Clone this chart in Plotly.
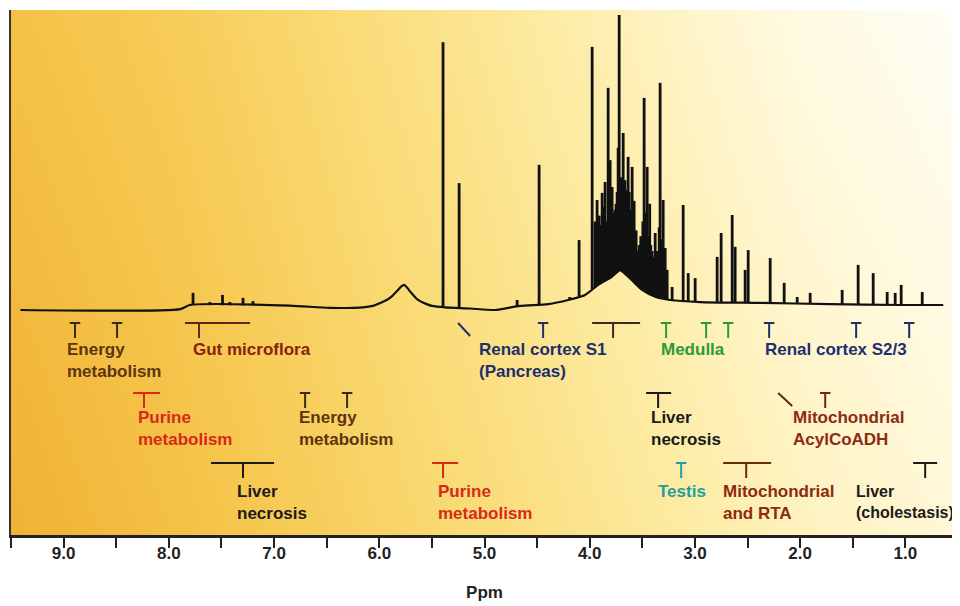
import numpy as np
import plotly.graph_objects as go

# ---------------- data ----------------
# baseline profile of the spectrum (ppm, intensity)
base_ppm = [9.41, 7.89, 7.80, 6.85, 6.47, 6.135, 6.05, 5.99, 5.93, 5.878, 5.83, 5.79,
            5.764, 5.74, 5.71, 5.688, 5.65, 5.612, 5.55, 5.498,
            5.374, 5.137, 4.90, 4.662, 4.395, 4.205, 4.044, 3.92, 3.80, 3.71, 3.597,
            3.502, 3.378, 3.236, 2.95, 2.38, 1.715, 1.05, 0.64]
base_int = [0.0, 0.3, 1.7, 1.5, 0.7, 1.0, 1.5, 2.4, 3.4, 4.7, 6.5, 8.0,
            8.5, 7.8, 6.4, 5.5, 4.0, 3.0, 2.0, 1.4,
            0.9, 0.5, 0.0, 1.4, 2.0, 3.4, 5.1, 8.5, 11.0, 13.5, 10.0,
            6.8, 4.5, 3.4, 2.7, 2.4, 2.0, 1.7, 1.7]

# resonance lines (ppm, peak intensity)
peak_ppm = [7.77, 7.61, 7.49, 7.42, 7.295, 7.20, 7.04,
            5.394, 5.241, 4.69, 4.481, 4.19, 4.101,
            3.977, 3.95, 3.93, 3.91, 3.90, 3.882, 3.87, 3.854, 3.84, 3.825, 3.815,
            3.806, 3.795, 3.787, 3.775, 3.76, 3.75, 3.74, 3.73, 3.72, 3.71,
            3.70, 3.69, 3.682, 3.665, 3.654, 3.645, 3.635, 3.625, 3.616, 3.605,
            3.597, 3.585, 3.578, 3.559, 3.545, 3.53, 3.515, 3.495, 3.483, 3.47,
            3.454, 3.44, 3.43, 3.42, 3.407, 3.39, 3.378, 3.36, 3.35, 3.34, 3.331,
            3.315, 3.302, 3.29, 3.283, 3.264, 3.217, 3.112, 3.064,
            2.998, 2.789, 2.751, 2.646, 2.618, 2.523, 2.494, 2.285, 2.152, 2.028,
            1.905, 1.601, 1.449, 1.306, 1.173, 1.097, 1.040, 0.840]
peak_int = [5.8, 2.7, 5.1, 2.7, 4.1, 3.0, 2.0,
            90.8, 43.0, 3.4, 49.2, 4.4, 23.7,
            89.2, 30.0, 37.3, 32.0, 28.8, 39.7, 35.0, 43.4, 30.0, 75.3, 45.0,
            50.8, 38.0, 41.7, 33.0, 34.0, 36.0, 40.0, 55.0, 100.0, 42.0,
            45.0, 38.0, 60.0, 44.0, 40.7, 36.0, 51.9, 40.0, 34.0, 30.0,
            48.5, 28.0, 37.0, 27.0, 20.0, 22.0, 25.0, 30.0, 71.9, 33.0,
            48.5, 25.0, 36.0, 22.0, 20.0, 18.0, 26.1, 20.0, 17.0, 28.0, 77.0,
            24.0, 37.3, 18.0, 21.0, 13.6, 7.8, 35.6, 12.5,
            10.8, 18.0, 26.1, 32.2, 21.4, 13.6, 20.3, 17.6, 9.2, 4.4,
            5.8, 6.8, 15.3, 12.5, 6.1, 5.8, 8.5, 6.1]

# axis
tick_vals = [9.5, 9.0, 8.5, 8.0, 7.5, 7.0, 6.5, 6.0, 5.5, 5.0, 4.5, 4.0,
             3.5, 3.0, 2.5, 2.0, 1.5, 1.0, 0.5]
tick_text = ["", "9.0", "", "8.0", "", "7.0", "", "6.0", "", "5.0", "", "4.0",
             "", "3.0", "", "2.0", "", "1.0", ""]

# region labels
label_text = ["Energy<br>metabolism", "Gut microflora", "Renal cortex S1<br>(Pancreas)",
              "Medulla", "Renal cortex S2/3",
              "Purine<br>metabolism", "Energy<br>metabolism", "Liver<br>necrosis",
              "Mitochondrial<br>AcylCoADH",
              "Liver<br>necrosis", "Purine<br>metabolism", "Testis",
              "Mitochondrial<br>and RTA", "Liver<br>(cholestasis)"]
label_ppm = [8.977, 7.779, 5.061, 3.331, 2.342,
             8.302, 6.772, 3.426, 2.076,
             7.361, 5.451, 3.359, 2.741, 1.478]
label_row = [0, 0, 0, 0, 0, 1, 1, 1, 1, 2, 2, 2, 2, 2]
label_size = [17, 17, 17, 17, 17, 17, 17, 17, 17, 17, 17, 17, 17, 16]
label_color = ["#5a3510", "#8a1e10", "#1d2f6e", "#2a9a3a", "#1d2f6e",
               "#d8281a", "#5a3510", "#1a1a1a", "#8e2a10",
               "#1a1a1a", "#d8281a", "#1f9f9f", "#8e2a10", "#1a1a1a"]

# single "T" markers
tee_ppm = [8.892, 8.492, 4.443, 3.274, 2.894, 2.684, 2.295, 1.468, 0.964,
           6.705, 6.306, 1.762, 3.131]
tee_row = [0, 0, 0, 0, 0, 0, 0, 0, 0, 1, 1, 1, 2]
tee_color = ["#3a2a10", "#3a2a10", "#1d2f6e", "#2a9a3a", "#2a9a3a", "#2a9a3a",
             "#1d2f6e", "#1d2f6e", "#1d2f6e", "#3a2a10", "#3a2a10", "#6a2a10", "#1f9f9f"]

# bracket markers (range and stem)
bar_from = [7.846, 3.977, 8.340, 3.464, 7.599, 5.498, 2.732, 0.926]
bar_to = [7.228, 3.521, 8.084, 3.226, 7.000, 5.251, 2.276, 0.698]
bar_stem = [7.713, 3.778, 8.236, 3.350, 7.295, 5.394, 2.513, 0.812]
bar_row = [0, 0, 1, 1, 2, 2, 2, 2]
bar_color = ["#5a2a10", "#3a2a20", "#d8281a", "#1a1a1a", "#1a1a1a", "#d8281a",
             "#6a2a10", "#1a1a1a"]

# slanted markers
diag_from = [5.251, 2.209]
diag_to = [5.137, 2.076]
diag_row = [0, 1]
diag_color = ["#1d2f6e", "#5a2a10"]

# background colour field
bg_ppm = [9.5, 8.0, 6.5, 5.0, 3.5, 2.0, 0.5]
bg_rows = [-76.3, 12.7, 101.7]
bg_z = [[1.00, 0.88, 0.74, 0.60, 0.44, 0.28, 0.16],
        [0.93, 0.82, 0.68, 0.53, 0.36, 0.19, 0.08],
        [0.86, 0.76, 0.62, 0.46, 0.28, 0.10, 0.00]]

# ---------------- figure ----------------
YMIN, YMAX = -76.27, 101.69
PLOT_H = 525.0
row_top = [0.4038, 0.2705, 0.1371]
stem = 15 / PLOT_H
tee_half = 0.05
row_text = [0.3524, 0.2229, 0.0838]
font = "Liberation Sans, Arial, sans-serif"

fig = go.Figure()
fig.add_trace(go.Heatmap(
    x=bg_ppm, y=bg_rows, z=bg_z, zsmooth="best", showscale=False, hoverinfo="skip",
    zmin=0, zmax=1,
    colorscale=[[0.0, "#fffef6"], [0.2, "#fff6cf"], [0.4, "#fdeba2"],
                [0.6, "#fadc78"], [0.8, "#f6c850"], [1.0, "#f0b234"]]))

fig.add_trace(go.Scatter(x=base_ppm, y=base_int, mode="lines",
                         line=dict(color="#111", width=2.2, shape="spline", smoothing=0.6),
                         hoverinfo="skip"))

bases = np.interp(np.array(peak_ppm)[::-1], np.array(base_ppm)[::-1],
                  np.array(base_int)[::-1])[::-1]
sx, sy = [], []
for p, h, b in zip(peak_ppm, peak_int, bases):
    sx += [p, p, None]
    sy += [b, max(h, b), None]
fig.add_trace(go.Scatter(x=sx, y=sy, mode="lines",
                         line=dict(color="#111", width=2.8), hoverinfo="skip"))

shapes = []
def seg(x0, y0, x1, y1, c):
    shapes.append(dict(type="line", xref="x", yref="paper", x0=x0, y0=y0, x1=x1, y1=y1,
                       line=dict(color=c, width=2)))

for p, r, c in zip(tee_ppm, tee_row, tee_color):
    seg(p - tee_half, row_top[r], p + tee_half, row_top[r], c)
    seg(p, row_top[r], p, row_top[r] - stem, c)
for a, b, s, r, c in zip(bar_from, bar_to, bar_stem, bar_row, bar_color):
    seg(a, row_top[r], b, row_top[r], c)
    seg(s, row_top[r], s, row_top[r] - stem, c)
for a, b, r, c in zip(diag_from, diag_to, diag_row, diag_color):
    seg(a, row_top[r], b, row_top[r] - 13 / PLOT_H, c)

annotations = []
for t, p, r, c, s in zip(label_text, label_ppm, label_row, label_color, label_size):
    n = t.count("<br>")
    annotations.append(dict(x=p, y=row_text[r] - n * 11 / PLOT_H, xref="x", yref="paper",
                            text=t, showarrow=False, xanchor="left", yanchor="middle",
                            align="left",
                            font=dict(family=font, size=s, color=c, weight="bold"),
                            borderpad=0))

# the page body adds an 8 px offset, so the figure is 8 px smaller than the window
fig.update_layout(
    width=952, height=598,
    margin=dict(l=3, r=2, t=2, b=71),
    paper_bgcolor="white", plot_bgcolor="white",
    showlegend=False, shapes=shapes, annotations=annotations,
    xaxis=dict(range=[9.5, 0.5], tickvals=tick_vals, ticktext=tick_text,
               ticks="outside", ticklen=10, tickwidth=2, tickcolor="#222",
               ticklabelstandoff=-9,
               showline=True, linecolor="#222", linewidth=2.5,
               showgrid=False, zeroline=False,
               tickfont=dict(family=font, size=17, color="#222", weight="bold"),
               title=dict(text="Ppm", font=dict(family=font, size=17, color="#222",
                                                weight="bold"),
                          standoff=24)),
    yaxis=dict(range=[YMIN, YMAX], showline=True, linecolor="#333", linewidth=2,
               showticklabels=False, ticks="", showgrid=False, zeroline=False),
)

fig.write_html("out.html")
